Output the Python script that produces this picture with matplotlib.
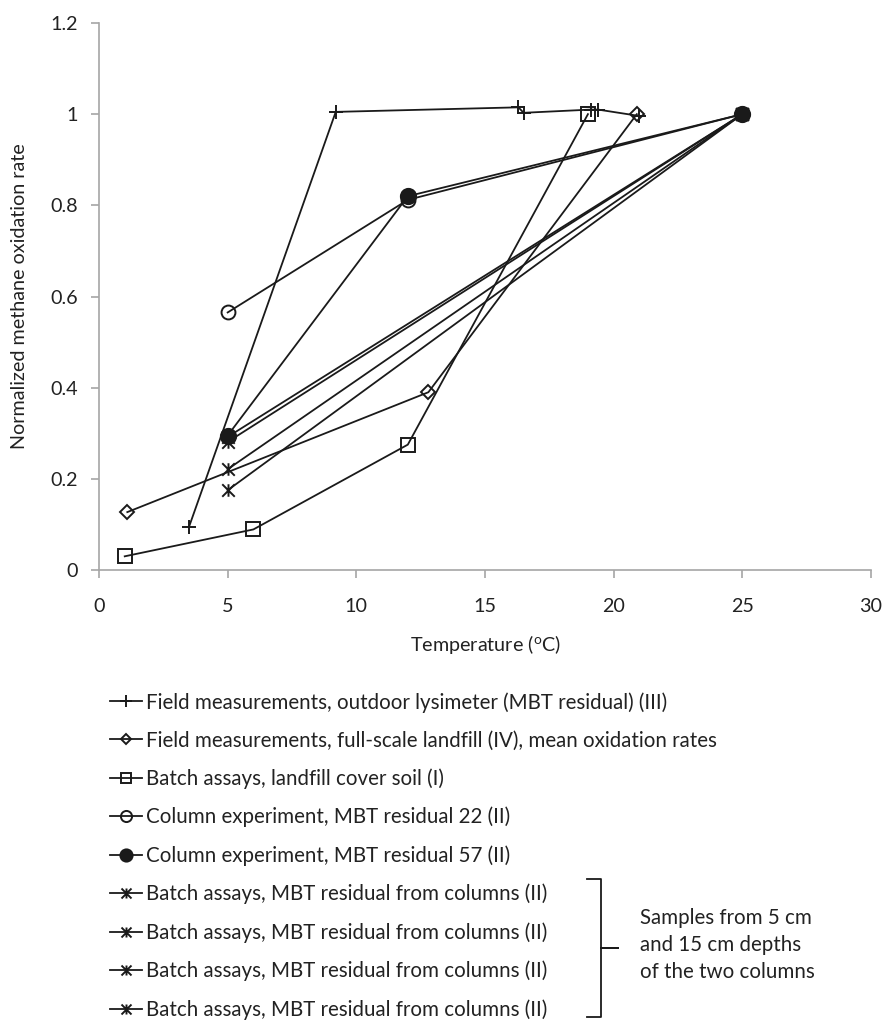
import matplotlib
matplotlib.use("Agg")
import matplotlib.pyplot as plt
from matplotlib.path import Path
from matplotlib.lines import Line2D

plt.rcParams['font.family'] = ['Lato', 'DejaVu Sans']

# --- data ---
lys_x = [3.5, 9.2, 16.3, 16.5, 19.1, 19.4, 21.0]
lys_y = [0.095, 1.005, 1.015, 1.003, 1.01, 1.01, 0.996]

full_x = [1.1, 12.8, 20.9]
full_y = [0.127, 0.39, 1.0]

soil_x = [1, 6, 12, 19]
soil_y = [0.03, 0.089, 0.275, 1.0]

col22_x = [5, 12, 25]
col22_y = [0.565, 0.812, 1.0]

col57_x = [5, 12, 25]
col57_y = [0.295, 0.82, 1.0]

batch_x = [5, 25]
batch_y = [[0.292, 1.0], [0.281, 1.0], [0.221, 1.0], [0.175, 1.0]]

labels = [
    "Field measurements, outdoor lysimeter (MBT residual) (III)",
    "Field measurements, full-scale landfill (IV), mean oxidation rates",
    "Batch assays, landfill cover soil (I)",
    "Column experiment, MBT residual 22 (II)",
    "Column experiment, MBT residual 57 (II)",
    "Batch assays, MBT residual from columns (II)",
    "Batch assays, MBT residual from columns (II)",
    "Batch assays, MBT residual from columns (II)",
    "Batch assays, MBT residual from columns (II)",
]

# Excel-style star: X plus a vertical bar
star = Path([(-1, -1), (1, 1), (-1, 1), (1, -1), (0, -1), (0, 1)],
            [Path.MOVETO, Path.LINETO, Path.MOVETO, Path.LINETO, Path.MOVETO, Path.LINETO])

ink = "#1a1a1a"
grey = "#a6a6a6"
txt = "#222222"
lw = 1.3
fs = 14.2
fs_leg = 14.8

fig = plt.figure(figsize=(8.84, 10.26), dpi=100)
ax = fig.add_axes([99 / 884, 1 - 570 / 1026, (871 - 99) / 884, (570 - 23) / 1026])

handles = []
h, = ax.plot(lys_x, lys_y, color=ink, lw=lw, marker='+', ms=10, mew=1.4)
handles.append(h)
h, = ax.plot(full_x, full_y, color=ink, lw=lw, marker='D', ms=7, mfc='none', mew=1.4)
handles.append(h)
h, = ax.plot(soil_x, soil_y, color=ink, lw=lw, marker='s', ms=9.5, mfc='none', mew=1.4)
handles.append(h)
h, = ax.plot(col22_x, col22_y, color=ink, lw=lw, marker='o', ms=10, mfc='none', mew=1.4)
handles.append(h)
h, = ax.plot(col57_x, col57_y, color=ink, lw=lw, marker='o', ms=11, mfc=ink, mew=1.4)
handles.append(h)
for yy in batch_y:
    h, = ax.plot(batch_x, yy, color=ink, lw=lw, marker=star, ms=9, mew=1.4)
    handles.append(h)

ax.set_xlim(0, 30)
ax.set_ylim(0, 1.2)
ax.set_xticks([0, 5, 10, 15, 20, 25, 30])
ax.set_yticks([0, 0.2, 0.4, 0.6, 0.8, 1.0, 1.2])
ax.set_yticklabels(["0", "0.2", "0.4", "0.6", "0.8", "1", "1.2"])

for s in ["top", "right"]:
    ax.spines[s].set_visible(False)
for s in ["left", "bottom"]:
    ax.spines[s].set_color(grey)
    ax.spines[s].set_linewidth(1.2)
ax.tick_params(direction='out', length=6, width=1.2, color=grey, labelsize=fs,
               labelcolor=txt, pad=9)
ax.tick_params(axis='x', pad=14)

ax.set_xlabel("Temperature ($\\mathregular{^{o}}$C)", fontsize=fs, color=txt, labelpad=13)
ax.set_ylabel("Normalized methane oxidation rate", fontsize=fs, color=txt, labelpad=16)

leg = fig.legend(handles, labels, loc='upper left', bbox_to_anchor=(110 / 884, 1 - 692 / 1026),
                 frameon=False, fontsize=fs_leg, handlelength=1.55, handletextpad=0.2,
                 labelspacing=0.87, borderpad=0, borderaxespad=0, markerscale=0.8)
for t in leg.get_texts():
    t.set_color(txt)

# brace grouping the last four entries
bx = [587, 601, 601, 618, 601, 601, 587]
by = [879, 879, 948, 948, 948, 1017, 1017]
fig.add_artist(Line2D([v / 884 for v in bx], [1 - v / 1026 for v in by],
                      transform=fig.transFigure, color=ink, lw=1.3))
fig.text(640 / 884, 1 - 945 / 1026, "Samples from 5 cm\nand 15 cm depths\nof the two columns",
         fontsize=fs_leg, color=txt, va='center', ha='left', linespacing=1.45)

fig.savefig("out.png", dpi=100)
